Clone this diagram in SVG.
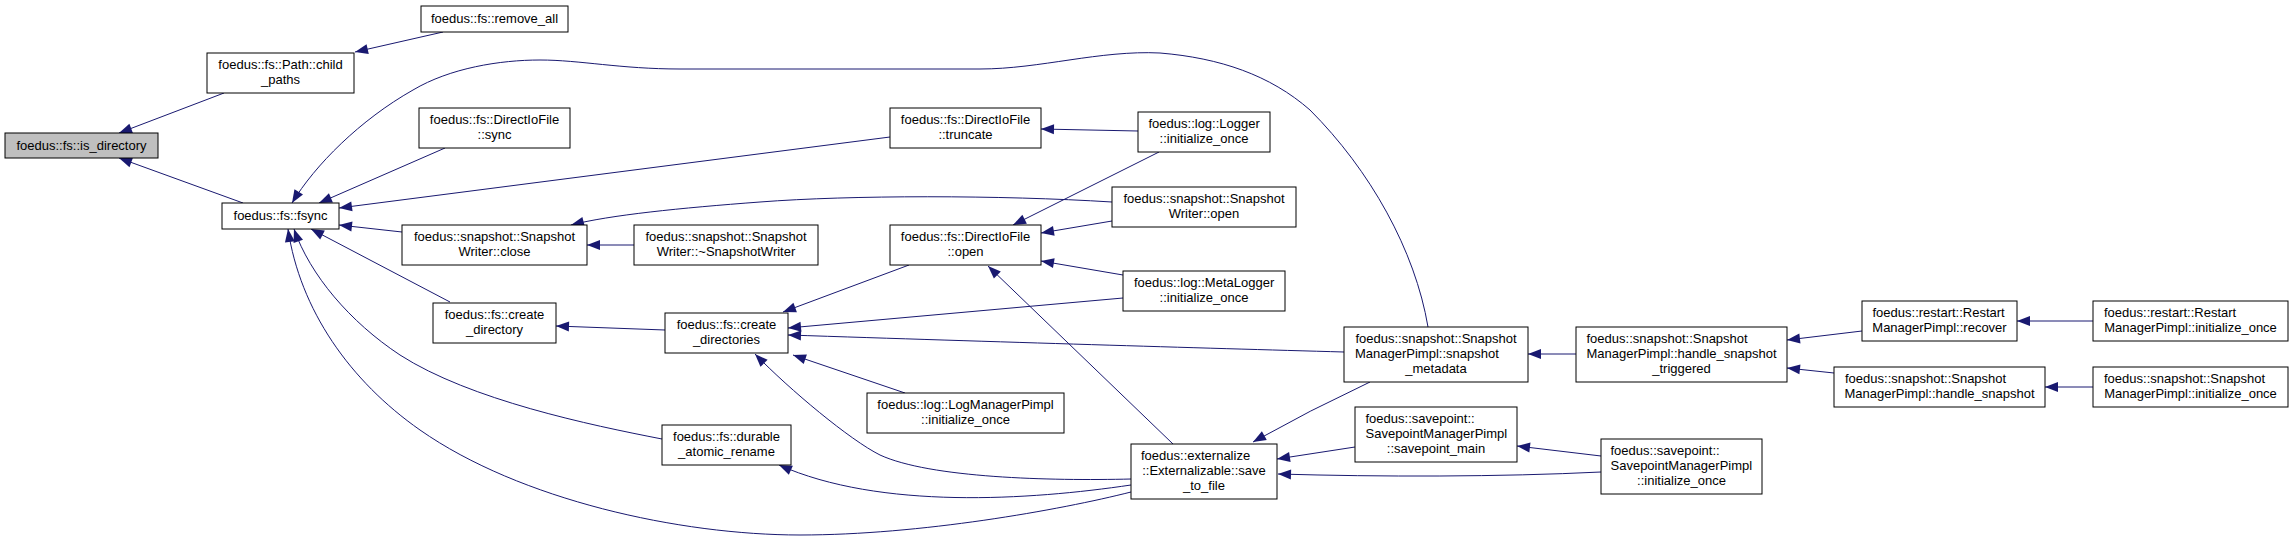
<svg xmlns="http://www.w3.org/2000/svg" width="2293" height="540" viewBox="0 0 2293 540">
<style>
.n rect{fill:#fff;stroke:#000;stroke-width:1}
.n text{font-family:"Liberation Sans",Arial,sans-serif;font-size:13px;fill:#000}
.m{text-anchor:middle}
.s{text-anchor:start}
.e path{fill:none;stroke:#191970;stroke-width:1;marker-end:url(#ah)}
</style>
<defs>
<marker id="ah" markerUnits="userSpaceOnUse" markerWidth="16" markerHeight="12" refX="13" refY="5" orient="auto" overflow="visible">
<path d="M0,0 L13,5 L0,10 z" fill="#191970"/>
</marker>
</defs>
<rect width="2293" height="540" fill="#fff"/>
<g id="edges" class="e">
<path d="M224,93 L119,133"/>
<path d="M243,203 L119,158"/>
<path d="M443,32 L355,52"/>
<path d="M1428,327 C1415,250 1370,170 1310,110 C1270,75 1220,58 1160,53 C1100,50 1040,69 980,69 L680,69 C620,69 580,60 540,60 C500,60 450,68 413,90 C360,120 315,165 292,203"/>
<path d="M445,148 L319,203"/>
<path d="M890,137 L339,208"/>
<path d="M402,232 L339,225"/>
<path d="M450,302 L311,229"/>
<path d="M662,439 C590,425 470,400 400,355 C350,322 310,275 294,229"/>
<path d="M1131,492 C1060,510 920,535 800,535 C680,535 520,500 420,430 C350,381 300,310 288,229"/>
<path d="M634,245 L587,245"/>
<path d="M1112,202 C1000,195 850,195 760,202 C680,208 610,215 571,225"/>
<path d="M665,330 L556,326"/>
<path d="M1138,131 L1041,129"/>
<path d="M1159,152 L1013,225"/>
<path d="M1112,221 L1041,233"/>
<path d="M1123,275 L1041,261"/>
<path d="M1173,444 L988,266"/>
<path d="M909,265 L783,312"/>
<path d="M1123,298 L788,328"/>
<path d="M1344,352 C1200,348 1000,342 788,335"/>
<path d="M905,393 L793,355"/>
<path d="M1131,479 C1050,481 930,478 880,455 C850,440 790,390 755,354"/>
<path d="M1131,485 C1030,500 880,510 779,465"/>
<path d="M1370,382 Q1310,410 1253,442"/>
<path d="M1355,447 L1277,459"/>
<path d="M1601,472 C1500,477 1380,477 1278,474"/>
<path d="M1576,354 L1528,354"/>
<path d="M1601,456 L1517,446"/>
<path d="M1862,331 L1787,340"/>
<path d="M1834,373 L1787,368"/>
<path d="M2093,321 L2017,321"/>
<path d="M2093,387 L2045,387"/>
</g>
<g id="n_is_directory" class="n"><rect x="5" y="133" width="153" height="25" style="fill:#bfbfbf"/><text class="m" x="81.5" y="150">foedus::fs::is_directory</text></g>
<g id="n_child_paths" class="n"><rect x="207" y="53" width="147" height="40"/><text class="m" x="280.5" y="69">foedus::fs::Path::child</text><text class="m" x="280.5" y="84">_paths</text></g>
<g id="n_remove_all" class="n"><rect x="421" y="6" width="147" height="26"/><text class="m" x="494.5" y="23">foedus::fs::remove_all</text></g>
<g id="n_fsync" class="n"><rect x="222" y="203" width="117" height="26"/><text class="m" x="280.5" y="220">foedus::fs::fsync</text></g>
<g id="n_sync" class="n"><rect x="419" y="108" width="151" height="40"/><text class="m" x="494.5" y="124">foedus::fs::DirectIoFile</text><text class="m" x="494.5" y="139">::sync</text></g>
<g id="n_close" class="n"><rect x="402" y="225" width="185" height="40"/><text class="m" x="494.5" y="241">foedus::snapshot::Snapshot</text><text class="m" x="494.5" y="256">Writer::close</text></g>
<g id="n_create_directory" class="n"><rect x="433" y="303" width="123" height="40"/><text class="m" x="494.5" y="319">foedus::fs::create</text><text class="m" x="494.5" y="334">_directory</text></g>
<g id="n_durable" class="n"><rect x="662" y="425" width="129" height="40"/><text class="m" x="726.5" y="441">foedus::fs::durable</text><text class="m" x="726.5" y="456">_atomic_rename</text></g>
<g id="n_create_directories" class="n"><rect x="665" y="313" width="123" height="40"/><text class="m" x="726.5" y="329">foedus::fs::create</text><text class="m" x="726.5" y="344">_directories</text></g>
<g id="n_dtor" class="n"><rect x="634" y="225" width="184" height="40"/><text class="m" x="726" y="241">foedus::snapshot::Snapshot</text><text class="m" x="726" y="256">Writer::~SnapshotWriter</text></g>
<g id="n_truncate" class="n"><rect x="890" y="108" width="151" height="40"/><text class="m" x="965.5" y="124">foedus::fs::DirectIoFile</text><text class="m" x="965.5" y="139">::truncate</text></g>
<g id="n_open" class="n"><rect x="890" y="225" width="151" height="40"/><text class="m" x="965.5" y="241">foedus::fs::DirectIoFile</text><text class="m" x="965.5" y="256">::open</text></g>
<g id="n_logmgr" class="n"><rect x="867" y="393" width="197" height="40"/><text class="m" x="965.5" y="409">foedus::log::LogManagerPimpl</text><text class="m" x="965.5" y="424">::initialize_once</text></g>
<g id="n_logger" class="n"><rect x="1138" y="112" width="132" height="40"/><text class="s" x="1148.5" y="128">foedus::log::Logger</text><text class="m" x="1204" y="143">::initialize_once</text></g>
<g id="n_writer_open" class="n"><rect x="1112" y="187" width="184" height="40"/><text class="m" x="1204" y="203">foedus::snapshot::Snapshot</text><text class="m" x="1204" y="218">Writer::open</text></g>
<g id="n_metalogger" class="n"><rect x="1123" y="271" width="162" height="40"/><text class="s" x="1134" y="287">foedus::log::MetaLogger</text><text class="m" x="1204" y="302">::initialize_once</text></g>
<g id="n_save_to_file" class="n"><rect x="1131" y="444" width="146" height="55"/><text class="s" x="1141" y="460">foedus::externalize</text><text class="m" x="1204" y="475">::Externalizable::save</text><text class="m" x="1204" y="490">_to_file</text></g>
<g id="n_snapshot_metadata" class="n"><rect x="1344" y="327" width="184" height="55"/><text class="m" x="1436" y="343">foedus::snapshot::Snapshot</text><text class="s" x="1355" y="358">ManagerPimpl::snapshot</text><text class="m" x="1436" y="373">_metadata</text></g>
<g id="n_savepoint_main" class="n"><rect x="1355" y="407" width="162" height="55"/><text class="s" x="1365.5" y="423">foedus::savepoint::</text><text class="s" x="1365.5" y="438">SavepointManagerPimpl</text><text class="m" x="1436" y="453">::savepoint_main</text></g>
<g id="n_handle_triggered" class="n"><rect x="1576" y="327" width="211" height="55"/><text class="s" x="1586.5" y="343">foedus::snapshot::Snapshot</text><text class="s" x="1586.5" y="358">ManagerPimpl::handle_snapshot</text><text class="m" x="1681.5" y="373">_triggered</text></g>
<g id="n_savepoint_init" class="n"><rect x="1601" y="439" width="161" height="55"/><text class="s" x="1610.5" y="455">foedus::savepoint::</text><text class="s" x="1610.5" y="470">SavepointManagerPimpl</text><text class="m" x="1681.5" y="485">::initialize_once</text></g>
<g id="n_recover" class="n"><rect x="1862" y="301" width="155" height="40"/><text class="s" x="1872.5" y="317">foedus::restart::Restart</text><text class="m" x="1939.5" y="332">ManagerPimpl::recover</text></g>
<g id="n_handle_snapshot" class="n"><rect x="1834" y="367" width="211" height="40"/><text class="s" x="1845" y="383">foedus::snapshot::Snapshot</text><text class="m" x="1939.5" y="398">ManagerPimpl::handle_snapshot</text></g>
<g id="n_restart_init" class="n"><rect x="2093" y="301" width="195" height="40"/><text class="s" x="2104" y="317">foedus::restart::Restart</text><text class="m" x="2190.5" y="332">ManagerPimpl::initialize_once</text></g>
<g id="n_snapshot_init" class="n"><rect x="2093" y="367" width="195" height="40"/><text class="s" x="2104" y="383">foedus::snapshot::Snapshot</text><text class="m" x="2190.5" y="398">ManagerPimpl::initialize_once</text></g>
</svg>
